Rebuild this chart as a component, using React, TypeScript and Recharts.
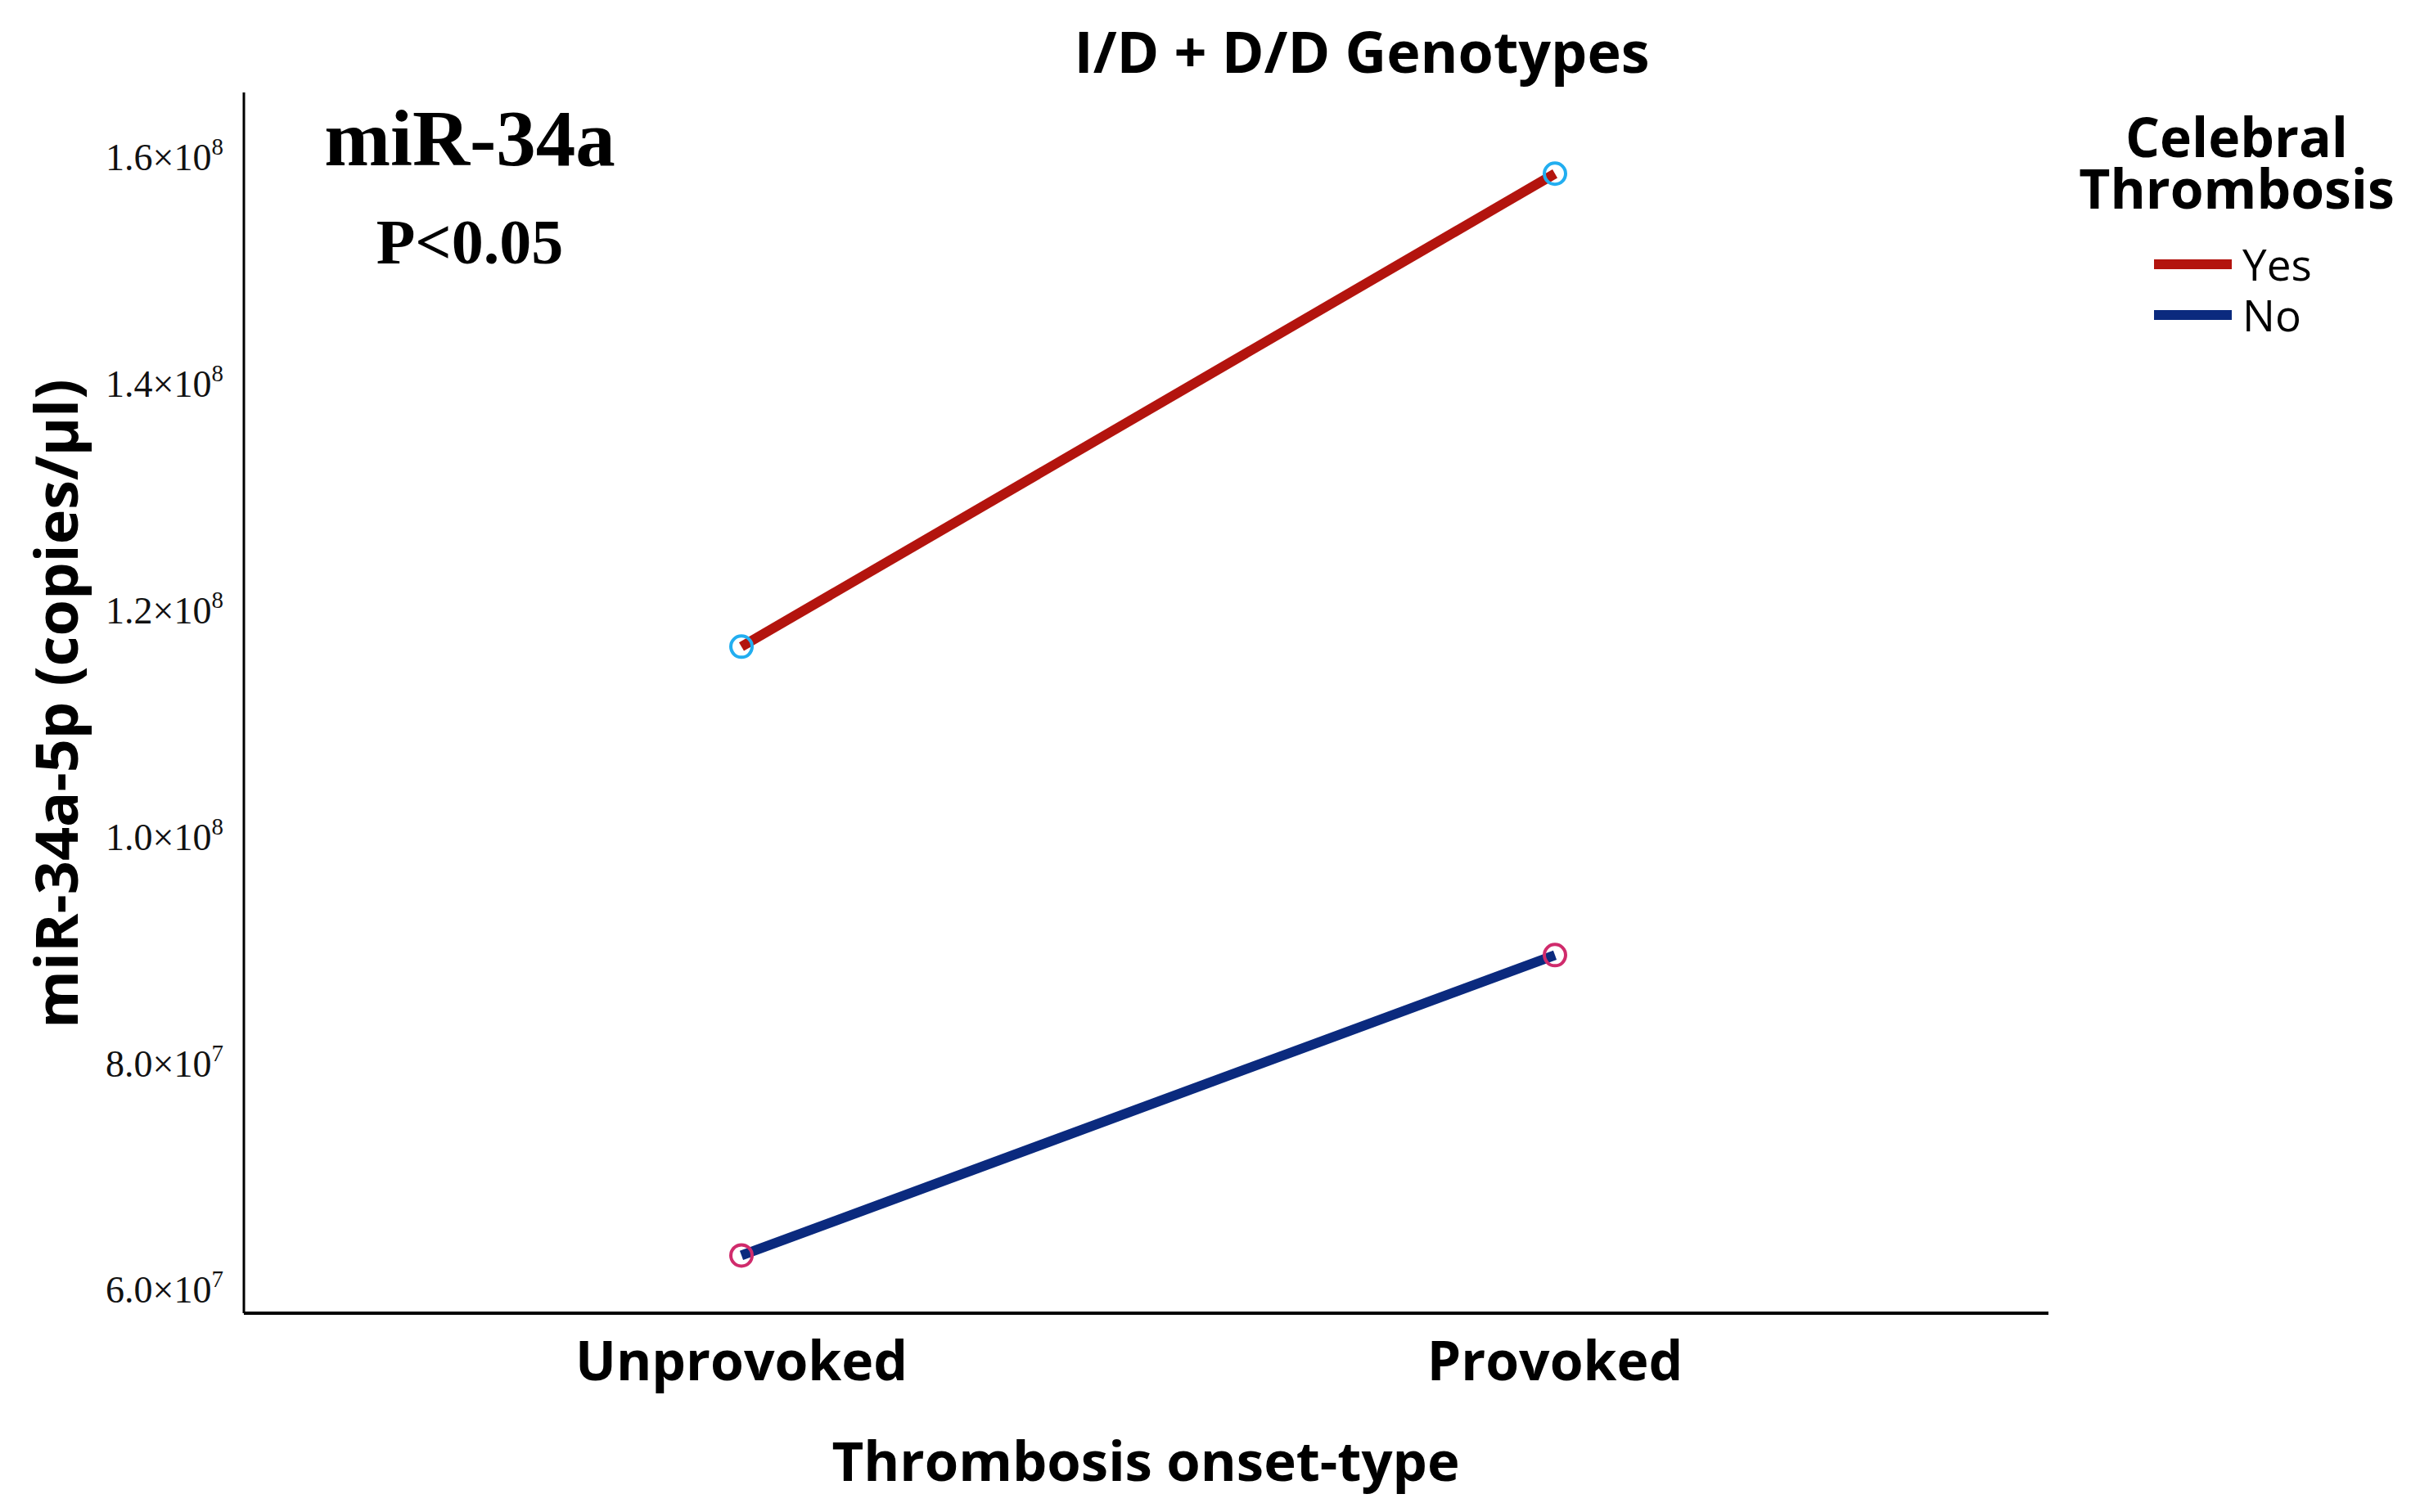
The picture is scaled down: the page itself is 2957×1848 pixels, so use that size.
import React from "react";
import { LineChart, Line, XAxis, YAxis, Legend } from "recharts";

const categories = ["Unprovoked", "Provoked"];
const yesValues = [1.1686e8, 1.5863e8];
const noValues = [6.31e7, 8.962e7];
const yTicks = [6e7, 8e7, 1e8, 1.2e8, 1.4e8, 1.6e8];
const seriesOrder = ["Yes", "No"];

const RED = "#b3140e";
const BLUE = "#0b2a7e";
const CYAN = "#22aef0";
const PINK = "#d02b6c";

const SANS = "'Open Sans', 'DejaVu Sans', sans-serif";
const SERIF = "'Liberation Serif', 'DejaVu Serif', serif";

const data = categories.map((name, i) => ({ name, yes: yesValues[i], no: noValues[i] }));

function sci(v: number) {
  const exp = Math.floor(Math.log10(v));
  const mant = (v / Math.pow(10, exp)).toFixed(1);
  return { mant, exp };
}

function YTick(props: any) {
  const { x, y, payload } = props;
  const { mant, exp } = sci(payload.value);
  return (
    <text x={x} y={y + 15} textAnchor="end" fontFamily={SERIF} fontSize={46} fill="#111">
      {mant}×10
      <tspan fontSize={29} dy={-19}>{exp}</tspan>
    </text>
  );
}

function XTick(props: any) {
  const { x, y, payload } = props;
  return (
    <text x={x} y={y + 82} textAnchor="middle" fontFamily={SANS} fontWeight={700} fontSize={66} fill="#000">
      {payload.value}
    </text>
  );
}

// legend drawn inside its own svg; top offset 50 leaves room for the ascenders
function LegendBox(props: any) {
  const payload = [...(props.payload || [])].sort(
    (a: any, b: any) => seriesOrder.indexOf(a.value) - seriesOrder.indexOf(b.value)
  );
  return (
    <svg width={410} height={360}>
      <text x={193} y={112} textAnchor="middle" fontFamily={SANS} fontWeight={700} fontSize={66} fill="#000">
        Celebral
      </text>
      <text x={193} y={175} textAnchor="middle" fontFamily={SANS} fontWeight={700} fontSize={66} fill="#000">
        Thrombosis
      </text>
      {payload.map((p: any, i: number) => (
        <g key={p.value}>
          <line x1={92} x2={187} y1={243 + i * 62} y2={243 + i * 62} stroke={p.color} strokeWidth={12} />
          <text x={200} y={263 + i * 62} fontFamily={SANS} fontSize={53} fill="#000">
            {p.value}
          </text>
        </g>
      ))}
    </svg>
  );
}

export default function App() {
  return (
    <div style={{ position: "absolute", left: 0, top: 0, width: 2957, height: 1848, background: "#fff" }}>
      <LineChart width={2957} height={1848} data={data} margin={{ top: 113, right: 454, bottom: 0, left: 0 }}>
        <XAxis
          dataKey="name"
          scale="point"
          padding={{ left: 608, right: 603 }}
          height={243}
          tickSize={0}
          tickMargin={0}
          tickLine={false}
          axisLine={{ stroke: "#000", strokeWidth: 4 }}
          tick={<XTick />}
        />
        <YAxis
          type="number"
          domain={[5.8e7, 1.658e8]}
          ticks={yTicks}
          allowDataOverflow
          width={298}
          tickSize={0}
          tickMargin={25}
          tickLine={false}
          axisLine={{ stroke: "#000", strokeWidth: 3 }}
          tick={<YTick />}
        />
        <Legend
          layout="vertical"
          align="center"
          verticalAlign="middle"
          content={<LegendBox />}
          wrapperStyle={{ left: 2540, top: 80, width: 410, height: 360 }}
        />
        <Line
          type="linear"
          dataKey="yes"
          name="Yes"
          stroke={RED}
          strokeWidth={12}
          dot={{ r: 13, stroke: CYAN, strokeWidth: 4, fill: "none" }}
          activeDot={false}
          isAnimationActive={false}
        />
        <Line
          type="linear"
          dataKey="no"
          name="No"
          stroke={BLUE}
          strokeWidth={12}
          dot={{ r: 13, stroke: PINK, strokeWidth: 4, fill: "none" }}
          activeDot={false}
          isAnimationActive={false}
        />
      </LineChart>
      <svg
        width={2957}
        height={1848}
        style={{ position: "absolute", left: 0, top: 0, pointerEvents: "none" }}
      >
        <text x={1664} y={89} textAnchor="middle" fontFamily={SANS} fontWeight={700} fontSize={70} fill="#000">
          I/D + D/D Genotypes
        </text>
        <text x={574} y={202} textAnchor="middle" fontFamily={SERIF} fontWeight={700} fontSize={97} fill="#000">
          miR-34a
        </text>
        <text x={574} y={322} textAnchor="middle" fontFamily={SERIF} fontWeight={700} fontSize={78} fill="#000">
          P&lt;0.05
        </text>
        <text
          x={95}
          y={860}
          transform="rotate(-90 95 860)"
          textAnchor="middle"
          fontFamily={SANS}
          fontWeight={700}
          fontSize={72}
          fill="#000"
        >
          miR-34a-5p (copies/μl)
        </text>
        <text x={1400} y={1810} textAnchor="middle" fontFamily={SANS} fontWeight={700} fontSize={67} fill="#000">
          Thrombosis onset-type
        </text>
      </svg>
    </div>
  );
}
